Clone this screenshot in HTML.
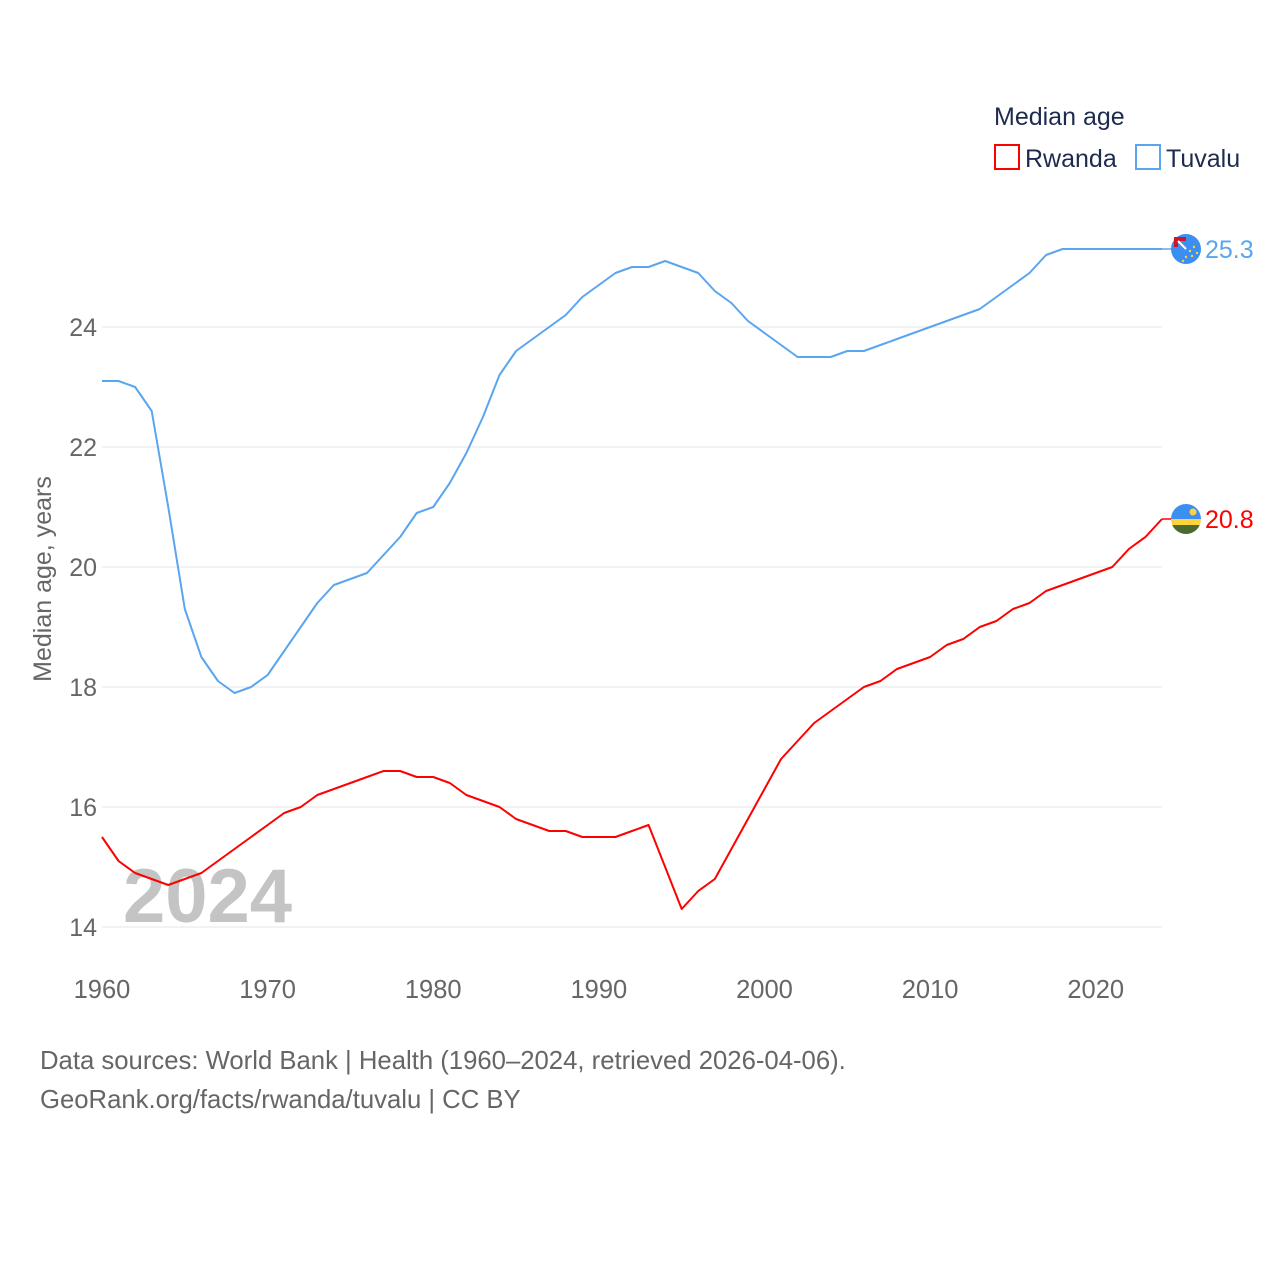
<!DOCTYPE html>
<html><head><meta charset="utf-8">
<style>
body{margin:0;background:#fff;}
svg{display:block;font-family:"Liberation Sans",sans-serif;}
</style></head>
<body>
<svg id="chart" width="1280" height="1280" viewBox="0 0 1280 1280" xmlns="http://www.w3.org/2000/svg">
<g id="grid"></g>
<text x="123" y="922" font-size="76" font-weight="bold" fill="#c4c4c4">2024</text>
<g id="series"></g>
<text transform="translate(51,579) rotate(-90)" text-anchor="middle" font-size="25" fill="#666">Median age, years</text>
<g>
<text x="994" y="125" font-size="25" fill="#1d2b4f">Median age</text>
<g><rect x="995" y="145" width="24" height="24" fill="none" stroke="#ff0000" stroke-width="2"/><text x="1025" y="167" font-size="25" fill="#1d2b4f">Rwanda</text></g>
<g><rect x="1136" y="145" width="24" height="24" fill="none" stroke="#5aa5ef" stroke-width="2"/><text x="1166" y="167" font-size="25" fill="#1d2b4f">Tuvalu</text></g>
</g>
<text x="40" y="1069" font-size="25.7" fill="#666">Data sources: World Bank | Health (1960–2024, retrieved 2026-04-06).</text>
<text x="40" y="1108" font-size="25.7" fill="#666">GeoRank.org/facts/rwanda/tuvalu | CC BY</text>
</svg>
<script>
const years = [];
for (let y = 1960; y <= 2024; y++) years.push(y);
const tuvaluValues = [23.1,23.1,23.0,22.6,21.0,19.3,18.5,18.1,17.9,18.0,18.2,18.6,19.0,19.4,19.7,19.8,19.9,20.2,20.5,20.9,21.0,21.4,21.9,22.5,23.2,23.6,23.8,24.0,24.2,24.5,24.7,24.9,25.0,25.0,25.1,25.0,24.9,24.6,24.4,24.1,23.9,23.7,23.5,23.5,23.5,23.6,23.6,23.7,23.8,23.9,24.0,24.1,24.2,24.3,24.5,24.7,24.9,25.2,25.3,25.3,25.3,25.3,25.3,25.3,25.3];
const rwandaValues = [15.5,15.1,14.9,14.8,14.7,14.8,14.9,15.1,15.3,15.5,15.7,15.9,16.0,16.2,16.3,16.4,16.5,16.6,16.6,16.5,16.5,16.4,16.2,16.1,16.0,15.8,15.7,15.6,15.6,15.5,15.5,15.5,15.6,15.7,15.0,14.3,14.6,14.8,15.3,15.8,16.3,16.8,17.1,17.4,17.6,17.8,18.0,18.1,18.3,18.4,18.5,18.7,18.8,19.0,19.1,19.3,19.4,19.6,19.7,19.8,19.9,20.0,20.3,20.5,20.8];
const yTicks = [14,16,18,20,22,24];
const xTicks = [1960,1970,1980,1990,2000,2010,2020];

const NS = "http://www.w3.org/2000/svg";
const xS = v => 102 + (v - 1960) * (1162 - 102) / 64;
const yS = v => 927 - (v - 14) * 60;
function mk(tag, attrs, parent, text){
  const e = document.createElementNS(NS, tag);
  for (const k in attrs) e.setAttribute(k, attrs[k]);
  if (text !== undefined) e.textContent = text;
  parent.appendChild(e); return e;
}
const grid = document.getElementById('grid');
yTicks.forEach(t => {
  const l = mk('line', {x1:102, x2:1162, y1:yS(t), y2:yS(t), stroke:'#e6e6e6', 'stroke-width':1}, grid);
  
  
  const tx = mk('text', {x:97, y:yS(t)+9, 'text-anchor':'end', 'font-size':25, fill:'#666'}, grid, String(t));
  
  
});
xTicks.forEach(t => {
  const tx = mk('text', {x:xS(t), y:998, 'text-anchor':'middle', 'font-size':25.5, fill:'#666'}, grid, String(t));
  
  
});
const ser = document.getElementById('series');
function line(vals, color, name){
  const d = vals.map((v,i) => (i?'L':'M') + xS(years[i]).toFixed(2) + ',' + yS(v).toFixed(2)).join('');
  const p = mk('path', {d:d, fill:'none', stroke:color, 'stroke-width':2, 'stroke-linejoin':'round'}, ser);
  
  
}
line(tuvaluValues, '#5aa5ef', 'tuvalu-line');
line(rwandaValues, '#ff0000', 'rwanda-line');

const tv = tuvaluValues[tuvaluValues.length-1], rv = rwandaValues[rwandaValues.length-1];
const ty = yS(tv), ry = yS(rv);
const c1 = mk('line', {x1:1162, x2:1172, y1:ty, y2:ty, stroke:'#5aa5ef', 'stroke-width':1.5}, ser);


const c2 = mk('line', {x1:1162, x2:1172, y1:ry, y2:ry, stroke:'#ff0000', 'stroke-width':1.5}, ser);



const g1 = mk('g', {}, ser);


mk('circle', {cx:1186, cy:ty, r:15, fill:'#3c8ff0'}, g1);
mk('path', {d:`M1174 ${ty-12} h12 v4 h-8 v6 h-4z`, fill:'#d0142c'}, g1);
mk('line', {x1:1178, y1:ty-8, x2:1186, y2:ty, stroke:'#fff', 'stroke-width':2}, g1);
[[1190,ty+2],[1194,ty-2],[1192,ty+7],[1186,ty+8],[1197,ty+4],[1183,ty+12]].forEach(p=>mk('circle',{cx:p[0],cy:p[1],r:1.2,fill:'#ffd23c'},g1));
const l1 = mk('text', {x:1205, y:ty+9, 'font-size':25, fill:'#5aa5ef'}, ser, tv.toFixed(1));



const g2 = mk('g', {}, ser);


mk('clipPath', {id:'rc'}, g2);
mk('circle', {cx:1186, cy:ry, r:15}, g2.lastChild);
const cg = mk('g', {'clip-path':'url(#rc)'}, g2);
mk('rect', {x:1170, y:ry-16, width:32, height:16, fill:'#3c8ff0'}, cg);
mk('rect', {x:1170, y:ry, width:32, height:6, fill:'#fcd33a'}, cg);
mk('rect', {x:1170, y:ry+6, width:32, height:10, fill:'#4a6a2e'}, cg);
mk('circle', {cx:1193, cy:ry-7, r:3.5, fill:'#fcd33a'}, cg);
const l2 = mk('text', {x:1205, y:ry+9, 'font-size':25, fill:'#ff0000'}, ser, rv.toFixed(1));


</script>
</body></html>
